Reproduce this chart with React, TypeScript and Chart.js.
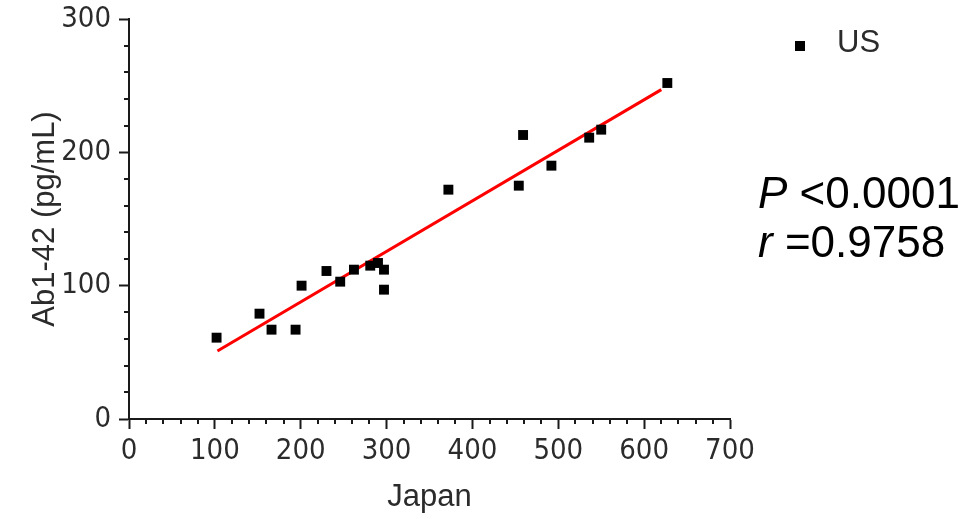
import React, { useEffect, useRef } from "react";
import { Chart, registerables } from "chart.js";

Chart.register(...registerables);

// Data
const japanValues = [102, 152, 166, 194, 201, 230, 246, 262, 281, 290, 297, 297, 372, 459, 454, 492, 536, 550, 627];
const usValues = [61, 79, 67, 67, 100, 111, 103, 112, 115, 117, 112, 97, 172, 213, 175, 190, 211, 217, 252];
const fitLineX = [103, 620];
const fitLineY = [51, 247];

const xMin = 0;
const xMax = 700;
const yMin = 0;
const yMax = 300;
const majorStep = 100;
const minorStep = 20;

const seriesLabel = "US";
const xTitle = "Japan";
const yTitle = "Ab1-42 (pg/mL)";
const statP = "<0.0001";
const statR = "=0.9758";

const FONT = "'Liberation Sans', Arial, sans-serif";
const TICK_FONT = "'Liberation Sans Narrow', 'Arial Narrow', 'DejaVu Sans Condensed', 'Liberation Sans', sans-serif";
const AXIS_COLOR = "#1a1a1a";
const TEXT_COLOR = "#2b2b2b";

const overlayPlugin = {
  id: "overlay",
  afterDraw(chart: any) {
    const ctx = chart.ctx as CanvasRenderingContext2D;
    const xs = chart.scales.x;
    const ys = chart.scales.y;
    const area = chart.chartArea;
    ctx.save();
    // minor ticks
    ctx.strokeStyle = AXIS_COLOR;
    ctx.lineWidth = 2;
    ctx.beginPath();
    for (let v = xMin; v <= xMax; v += minorStep) {
      if (v % majorStep === 0) continue;
      const px = Math.round(xs.getPixelForValue(v));
      ctx.moveTo(px, area.bottom);
      ctx.lineTo(px, area.bottom + 5);
    }
    for (let v = yMin; v <= yMax; v += minorStep) {
      if (v % majorStep === 0) continue;
      const py = Math.round(ys.getPixelForValue(v));
      ctx.moveTo(area.left - 5, py);
      ctx.lineTo(area.left, py);
    }
    ctx.stroke();

    // legend
    const legX = area.right + 70;
    const legY = 46;
    ctx.fillStyle = "#000";
    ctx.fillRect(legX - 5, legY - 5, 10, 10);
    ctx.fillStyle = TEXT_COLOR;
    ctx.font = `31px ${FONT}`;
    ctx.textBaseline = "middle";
    ctx.textAlign = "left";
    ctx.fillText(seriesLabel, legX + 37, legY - 3);

    // statistics
    ctx.fillStyle = "#000";
    ctx.textBaseline = "alphabetic";
    const tx = area.right + 28;
    ctx.font = `italic 44px ${FONT}`;
    ctx.fillText("P", tx, 208);
    let w = ctx.measureText("P").width;
    ctx.font = `44px ${FONT}`;
    ctx.fillText(" " + statP, tx + w, 208);
    ctx.font = `italic 44px ${FONT}`;
    ctx.fillText("r", tx, 257);
    w = ctx.measureText("r").width;
    ctx.font = `44px ${FONT}`;
    ctx.fillText(" " + statR, tx + w, 257);
    ctx.restore();
  },
};

export default function App() {
  const ref = useRef<HTMLCanvasElement | null>(null);

  useEffect(() => {
    if (!ref.current) return;
    const points = japanValues.map((x, i) => ({ x, y: usValues[i] }));
    const fit = fitLineX.map((x, i) => ({ x, y: fitLineY[i] }));
    const chart = new Chart(ref.current, {
      type: "scatter",
      data: {
        datasets: [
          {
            label: seriesLabel,
            data: points,
            pointStyle: "rect",
            pointRadius: 7,
            pointHoverRadius: 7,
            backgroundColor: "#000",
            borderWidth: 0,
          },
          {
            label: "fit",
            data: fit,
            showLine: true,
            pointRadius: 0,
            borderColor: "#ff0000",
            borderWidth: 3,
            fill: false,
          },
        ],
      },
      options: {
        responsive: false,
        animation: false,
        events: [],
        layout: { padding: { left: 0, top: 19, right: 241, bottom: 0 } },
        plugins: {
          legend: { display: false },
          tooltip: { enabled: false },
        },
        scales: {
          x: {
            type: "linear",
            min: xMin,
            max: xMax,
            afterFit: (s: any) => {
              s.height = 100;
              s.paddingLeft = 0;
              s.paddingRight = 0;
            },
            ticks: {
              stepSize: majorStep,
              padding: 5,
              color: TEXT_COLOR,
              font: { family: TICK_FONT, size: 29 },
              maxRotation: 0,
            },
            grid: {
              display: true,
              drawOnChartArea: false,
              drawTicks: true,
              tickLength: 10,
              tickColor: AXIS_COLOR,
              tickWidth: 2,
            },
            border: { display: true, color: AXIS_COLOR, width: 2 },
            title: {
              display: true,
              text: xTitle,
              color: TEXT_COLOR,
              font: { family: FONT, size: 31 },
              padding: { top: 0, bottom: 3 },
            },
          },
          y: {
            type: "linear",
            min: yMin,
            max: yMax,
            afterFit: (s: any) => {
              s.width = 129;
              s.paddingTop = 0;
              s.paddingBottom = 0;
            },
            ticks: {
              stepSize: majorStep,
              padding: 8,
              color: TEXT_COLOR,
              font: { family: TICK_FONT, size: 29 },
            },
            grid: {
              display: true,
              drawOnChartArea: false,
              drawTicks: true,
              tickLength: 10,
              tickColor: AXIS_COLOR,
              tickWidth: 2,
            },
            border: { display: true, color: AXIS_COLOR, width: 2 },
            title: {
              display: true,
              text: yTitle,
              color: TEXT_COLOR,
              font: { family: FONT, size: 31 },
              padding: { top: 27, bottom: 0 },
            },
          },
        },
      },
      plugins: [overlayPlugin],
    });
    return () => chart.destroy();
  }, []);

  return (
    <div style={{ position: "absolute", left: 0, top: 0, width: 971, height: 519, background: "#fff" }}>
      <canvas ref={ref} width={971} height={519} style={{ display: "block", width: 971, height: 519 }} />
    </div>
  );
}
